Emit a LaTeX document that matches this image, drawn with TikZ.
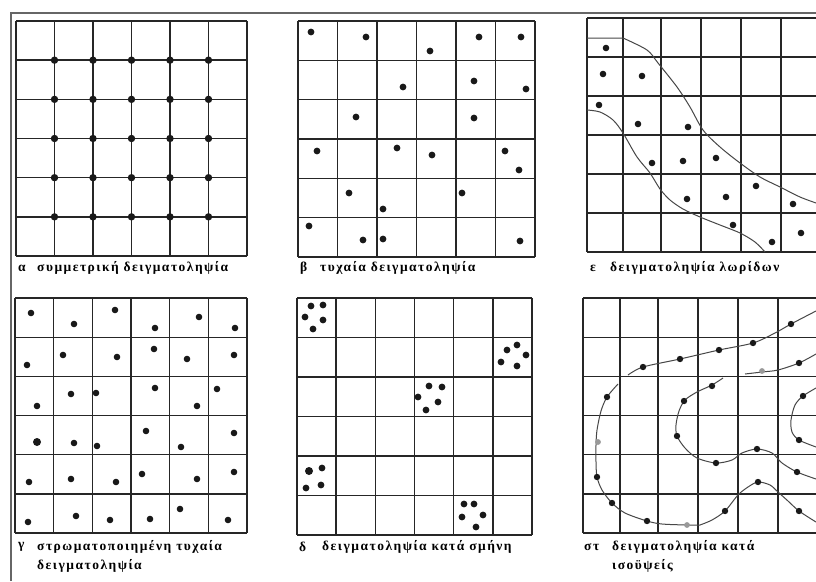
\documentclass[tikz,border=0pt]{standalone}
\usepackage{fontspec}
\setmainfont{Liberation Serif}
\newfontfamily\lblfont[LetterSpace=11]{Liberation Serif}
\begin{document}
\begin{tikzpicture}[x=1pt,y=-1pt,
  gridline/.style={draw=black!85, line width=1.35pt},
  frameline/.style={draw=black!60, line width=1.3pt},
  contour/.style={draw=black!72, line width=1pt},
  dotc/.style={fill=black!90},
  faint/.style={fill=black!40},
  lbl/.style={anchor=west, inner sep=0pt, font=\lblfont\bfseries\fontsize{13.5}{15}\selectfont}
]
\useasboundingbox (0,0) rectangle (816,581);
\fill[white] (0,0) rectangle (816,581);
% outer frame
\draw[frameline] (11,581) -- (11,13) -- (816,13);

% ---------- alpha: systematic ----------
\foreach \i in {0,...,6} {
  \draw[gridline] (16+\i*38.5,21) -- (16+\i*38.5,256);
  \draw[gridline] (16,21+\i*39.17) -- (247,21+\i*39.17);
}
\foreach \i in {1,...,5} \foreach \j in {1,...,5}
  \fill[dotc] (16+\i*38.5,21+\j*39.17) circle (3.7);

% ---------- beta: random ----------
\foreach \i in {0,...,6} {
  \draw[gridline] (298+\i*39.5,21) -- (298+\i*39.5,257);
  \draw[gridline] (298,21+\i*39.33) -- (535,21+\i*39.33);
}
\foreach \p in {(311,32),(366,37),(430,51),(479,37),(521,37),(403,87),(474,81),(526,89),
  (356,117),(474,118),(317,151),(397,148),(432,155),(505,151),(519,170),(349,193),(462,193),
  (383,209),(309,226),(363,240),(383,239),(520,241)}
  \fill[dotc] \p circle (3.4);

% ---------- epsilon: strips ----------
\foreach \x in {587,623,661,701,741,781}
  \draw[gridline] (\x,18) -- (\x,252);
\foreach \i in {0,...,6}
  \draw[gridline] (587,18+\i*39) -- (816,18+\i*39);
\draw[contour] (587,38) -- (623,38) plot[smooth] coordinates {(623,38) (647,50) (658,63) (677,87) (690,107)
  (703,130) (720,147) (740,163) (760,177) (780,187) (800,197) (816,203)};
\draw[contour] plot[smooth] coordinates {(587,110) (600,112) (613,120) (623,133) (637,157) (650,173)
  (660,189) (670,200) (683,209) (700,217) (720,225) (740,233) (755,242) (765,252)};
\foreach \p in {(606,48),(603,74),(642,76),(599,105),(638,124),(688,127),(652,163),(683,161),
  (716,158),(687,199),(726,197),(756,186),(793,204),(733,225),(772,242),(801,233)}
  \fill[dotc] \p circle (3.3);

% ---------- gamma: stratified random ----------
\foreach \i in {0,...,6} {
  \draw[gridline] (15+\i*38.67,298) -- (15+\i*38.67,533);
  \draw[gridline] (15,298+\i*39.17) -- (247,298+\i*39.17);
}
\foreach \p in {(31,313),(74,324),(115,310),(155,328),(199,317),(235,328),
  (27,365),(63,355),(117,357),(154,349),(187,359),(234,355),
  (37,406),(71,394),(96,393),(155,388),(197,406),(217,389),
  (74,443),(97,446),(146,431),(181,447),(234,433),
  (29,482),(71,479),(116,482),(142,474),(197,479),(234,472),
  (28,522),(76,516),(110,520),(150,519),(180,509),(228,520)}
  \fill[dotc] \p circle (3.3);
\fill[dotc] (37,442) circle (4);

% ---------- delta: cluster ----------
\foreach \i in {0,...,6} {
  \draw[gridline] (297+\i*39.17,298) -- (297+\i*39.17,535);
  \draw[gridline] (297,298+\i*39.5) -- (532,298+\i*39.5);
}
\foreach \p in {(311,306),(323,305),(305,317),(323,320),(313,329),
  (507,350),(517,345),(526,355),(501,362),(517,366),
  (429,386),(442,387),(418,397),(438,402),(426,410),
  (322,468),(306,488),(321,485),
  (464,504),(474,504),(462,517),(483,515),(476,527)}
  \fill[dotc] \p circle (3.4);
\fill[dotc] (309,471) circle (4);

% ---------- sigma-tau: isolines ----------
\foreach \x in {583,620,658,698,738,778}
  \draw[gridline] (\x,298) -- (\x,533);
\foreach \i in {0,...,6}
  \draw[gridline] (583,298+\i*39.17) -- (816,298+\i*39.17);
% curve A
\draw[contour] plot[smooth] coordinates {(628,375) (643,367) (680,359) (719,350) (753,343) (775,333)
  (791,324) (816,311)};
% curve B
\draw[contour] plot[smooth] coordinates {(745,374) (762,372) (778,370) (799,363) (816,354)};
% curve C
\draw[contour] plot[smooth] coordinates {(618,384) (607,397) (601,411) (597,430) (596,445) (596,462)
  (597,477) (602,490) (612,503) (625,513) (647,521) (662,524) (687,525) (700,525)};
\draw[contour] plot[smooth] coordinates {(700,525) (712,520) (725,511) (738,495) (748,487) (758,482)
  (770,485) (778,492) (788,501) (799,511) (816,522)};
% curve D
\draw[contour] plot[smooth] coordinates {(723,378) (712,385) (697,392) (685,400) (679,411) (676,425)
  (677,436) (685,448) (697,458) (716,463) (732,460) (742,453) (757,449) (772,453) (782,463)
  (797,472) (816,479)};
% curve E
\draw[contour] plot[smooth] coordinates {(816,388) (803,396) (795,405) (791,420) (792,432) (799,440)
  (816,447)};
\foreach \p in {(643,367),(680,359),(719,350),(753,343),(791,324),(799,363),
  (712,386),(684,401),(677,436),(716,463),(757,449),(797,472),
  (803,396),(799,440),
  (607,397),(597,477),(612,503),(647,521),(725,511),(758,482),(799,511)}
  \fill[dotc] \p circle (3.2);
\foreach \p in {(762,371),(687,525),(598,442)}
  \fill[faint] \p circle (2.9);

% ---------- labels ----------
\node[lbl] (la)  at (18,268)  {α};
\node[lbl] (lat) at (37,268)  {συμμετρική δειγματοληψία};
\node[lbl] (lb)  at (300,268) {β};
\node[lbl] (lbt) at (320,268) {τυχαία δειγματοληψία};
\node[lbl] (le)  at (590,268) {ε};
\node[lbl] (let) at (610,268) {δειγματοληψία λωρίδων};
\node[lbl] (lg)  at (18,547)  {γ};
\node[lbl] (lgt) at (37,547)  {στρωματοποιημένη τυχαία};
\node[lbl] (lgu) at (37,566)  {δειγματοληψία};
\node[lbl] (ld)  at (299,547) {δ};
\node[lbl] (ldt) at (322,547) {δειγματοληψία κατά σμήνη};
\node[lbl] (ls)  at (584,547) {στ};
\node[lbl] (lst) at (612,547) {δειγματοληψία κατά};
\node[lbl] (lsu) at (612,566) {ισοϋψείς};
\end{tikzpicture}
\end{document}
